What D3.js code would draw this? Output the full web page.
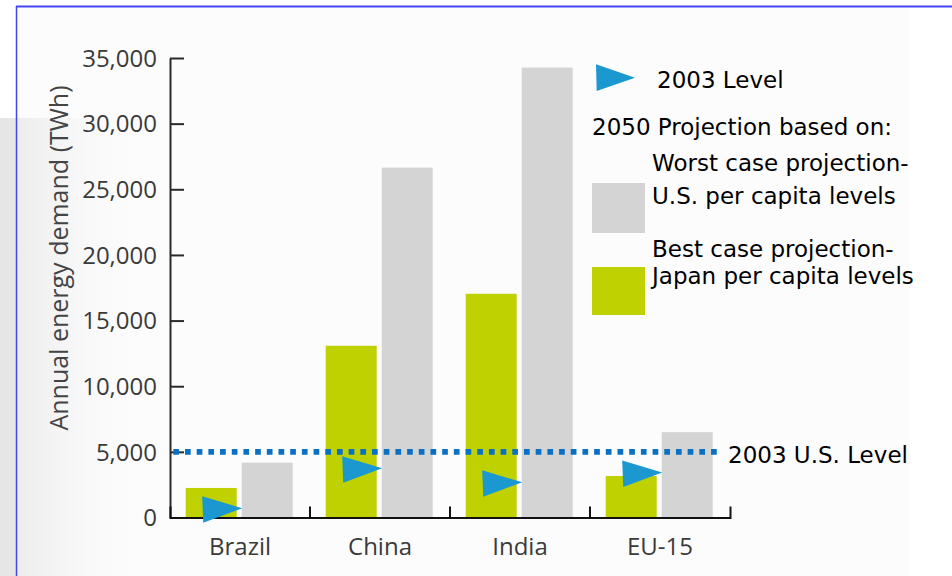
<!DOCTYPE html>
<html>
<head>
<meta charset="utf-8">
<script src="https://cdn.jsdelivr.net/npm/d3@7"></script>
<style>
  html, body { margin: 0; padding: 0; background: #ffffff; }
  svg { display: block; }
</style>
</head>
<body>
<svg id="chart" width="952" height="576"></svg>
<script>
// Annual energy demand (TWh), by region
const categories = ["Brazil", "China", "India", "EU-15"];
const bestCase = [2250, 13080, 17040, 3160];    // Japan per capita levels (2050)
const worstCase = [4180, 26650, 34270, 6500];   // U.S. per capita levels (2050)
const level2003 = [700, 3750, 2680, 3420];      // 2003 level markers
const usLevel2003 = 5000;                        // 2003 U.S. level reference line
const yTicks = [0, 5000, 10000, 15000, 20000, 25000, 30000, 35000];

const legendLines = {
  marker: "2003 Level",
  heading: "2050 Projection based on:",
  worst: ["Worst case projection-", "U.S. per capita levels"],
  best: ["Best case projection-", "Japan per capita levels"],
  refLine: "2003 U.S. Level"
};

const C = {
  green: "#bfd100",
  gray: "#d4d4d4",
  tri: "#1b98d0",
  dot: "#0a70c4",
  axis: "#2a2a2a",
  text: "#3a3a3a",
  border: "#4444f2"
};

const svg = d3.select("#chart");

// page backdrop
svg.append("rect").attr("x", 0).attr("y", 118).attr("width", 16).attr("height", 458).attr("fill", "#e6e6e6");
svg.append("rect").attr("x", 17).attr("y", 8).attr("width", 893).attr("height", 568).attr("fill", "#fcfcfc");
const defs = svg.append("defs");
const grad = defs.append("linearGradient").attr("id", "leftShade").attr("x1", 0).attr("x2", 1).attr("y1", 0).attr("y2", 0);
grad.append("stop").attr("offset", 0).attr("stop-color", "#ececec").attr("stop-opacity", 1);
grad.append("stop").attr("offset", 1).attr("stop-color", "#ffffff").attr("stop-opacity", 0);
svg.append("rect").attr("x", 17).attr("y", 118).attr("width", 150).attr("height", 458).attr("fill", "url(#leftShade)");

// frame
svg.append("line").attr("x1", 16).attr("x2", 952).attr("y1", 6.5).attr("y2", 6.5)
  .attr("stroke", C.border).attr("stroke-width", 2);
svg.append("line").attr("x1", 16.5).attr("x2", 16.5).attr("y1", 6).attr("y2", 576)
  .attr("stroke", C.border).attr("stroke-width", 1.5);

// scales
const x = d3.scaleBand().domain(categories).range([170, 730]).padding(0);
const sub = d3.scaleBand().domain(["best", "worst"]).range([15.7, 122.7]).paddingInner(0.09);
const y = d3.scaleLinear().domain([0, 35000]).range([517.5, 58]);

const rows = categories.map((c, i) => ({ c, best: bestCase[i], worst: worstCase[i], l2003: level2003[i] }));

// bars
const g = svg.append("g");
g.selectAll("rect.best").data(rows).join("rect").attr("class", "best")
  .attr("x", d => x(d.c) + sub("best")).attr("width", sub.bandwidth())
  .attr("y", d => y(d.best)).attr("height", d => y(0) - y(d.best)).attr("fill", C.green);
g.selectAll("rect.worst").data(rows).join("rect").attr("class", "worst")
  .attr("x", d => x(d.c) + sub("worst")).attr("width", sub.bandwidth())
  .attr("y", d => y(d.worst)).attr("height", d => y(0) - y(d.worst)).attr("fill", C.gray);

// y axis: inward ticks
const yAxis = d3.axisLeft(y).tickValues(yTicks).tickFormat(d3.format(","))
  .tickSizeInner(-14).tickSizeOuter(0).tickPadding(13);
const ya = svg.append("g").attr("transform", "translate(170,0)").call(yAxis);
ya.select(".domain").attr("stroke", C.axis).attr("stroke-width", 2);
ya.selectAll(".tick line").attr("stroke", C.axis).attr("stroke-width", 2);
ya.selectAll(".tick text").attr("font-family", "'Open Sans', sans-serif").attr("font-size", 24)
  .attr("fill", C.text).attr("dy", "0.34em");

// x axis: labels centred in bands, boundary ticks pointing up
const xAxis = d3.axisBottom(x).tickSizeInner(0).tickSizeOuter(-11).tickPadding(20);
const xa = svg.append("g").attr("transform", `translate(0,${y(0)})`).call(xAxis);
xa.select(".domain").attr("stroke", "#111").attr("stroke-width", 2);
xa.selectAll(".tick text").attr("font-family", "'Open Sans', sans-serif").attr("font-size", 24)
  .attr("fill", C.text);
xa.selectAll("line.bound").data(categories.slice(0, -1)).join("line").attr("class", "bound")
  .attr("x1", d => x(d) + x.bandwidth()).attr("x2", d => x(d) + x.bandwidth())
  .attr("y1", 0).attr("y2", -11).attr("stroke", "#111").attr("stroke-width", 2);

// y axis title
svg.append("text").attr("transform", "translate(68,258) rotate(-90)")
  .attr("text-anchor", "middle").attr("font-family", "'Open Sans', sans-serif")
  .attr("font-size", 25).attr("fill", "#444").text("Annual energy demand (TWh)");

// 2003 U.S. level dotted line
svg.append("line").attr("x1", 173.3).attr("x2", 717).attr("y1", y(usLevel2003)).attr("y2", y(usLevel2003))
  .attr("stroke", C.dot).attr("stroke-width", 5.6).attr("stroke-dasharray", "5.7 5.99");
svg.append("text").attr("x", 728).attr("y", y(usLevel2003) + 11)
  .attr("font-family", "'DejaVu Sans', sans-serif").attr("font-size", 23).attr("fill", "#000")
  .text(legendLines.refLine);

// triangle marker, apex at (ax, ay)
const triPath = (ax, ay) => `M${ax - 40},${ay - 12}L${ax},${ay}L${ax - 39},${ay + 14.5}Z`;

svg.append("g").selectAll("path").data(rows).join("path")
  .attr("d", d => triPath(x(d.c) + sub("worst") + 0.5, y(d.l2003)))
  .attr("fill", C.tri);

// legend
const lg = svg.append("g").attr("font-family", "'DejaVu Sans', sans-serif").attr("font-size", 23).attr("fill", "#000");
lg.append("path").attr("d", `M596,64.3L635,77.7L596.7,91Z`).attr("fill", C.tri);
lg.append("text").attr("x", 657).attr("y", 88).text(legendLines.marker);
lg.append("text").attr("x", 592).attr("y", 135).text(legendLines.heading);
lg.append("rect").attr("x", 592).attr("y", 183).attr("width", 53).attr("height", 50).attr("fill", C.gray);
lg.append("text").attr("x", 652).attr("y", 171).text(legendLines.worst[0]);
lg.append("text").attr("x", 652).attr("y", 204).text(legendLines.worst[1]);
lg.append("rect").attr("x", 592).attr("y", 267).attr("width", 53).attr("height", 48).attr("fill", C.green);
lg.append("text").attr("x", 652).attr("y", 257).text(legendLines.best[0]);
lg.append("text").attr("x", 652).attr("y", 284).text(legendLines.best[1]);
</script>
</body>
</html>
